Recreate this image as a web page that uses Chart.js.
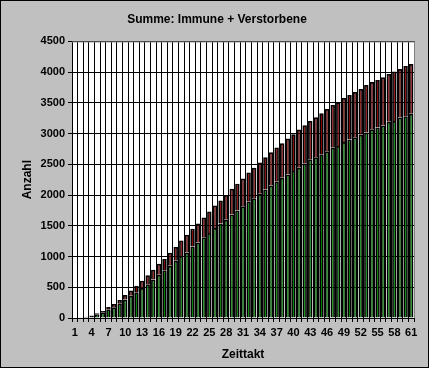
<!DOCTYPE html>
<html>
<head>
<meta charset="utf-8">
<script src="https://cdn.jsdelivr.net/npm/chart.js@4"></script>
<style>
  body { margin: 0; background: #c0c0c0; }
  #wrap { width: 429px; height: 368px; }
</style>
</head>
<body>
<div id="wrap"><canvas id="chart" width="429" height="368"></canvas></div>
<script>
// Zeittakt 1..61
let zeittakt = [];
for (let i = 1; i <= 61; i++) zeittakt.push(String(i));

// Immune (gruen)
let immune = [0, 4, 16, 32, 62, 92, 144, 175, 240, 300,
  360, 418, 490, 550, 627, 702, 770, 850, 931, 1008,
  1067, 1165, 1229, 1312, 1384, 1464, 1536, 1600, 1683, 1748,
  1817, 1890, 1950, 2022, 2092, 2157, 2217, 2282, 2336, 2391,
  2446, 2510, 2582, 2614, 2663, 2712, 2771, 2799, 2865, 2902,
  2941, 2981, 3018, 3072, 3098, 3132, 3192, 3207, 3263, 3281,
  3322];

// Verstorbene (rot)
let verstorbene = [0, 1, 4, 8, 16, 23, 36, 54, 54, 76,
  86, 105, 115, 147, 157, 180, 188, 212, 224, 252,
  289, 289, 307, 322, 348, 366, 376, 400, 419, 436,
  454, 479, 496, 506, 522, 539, 555, 561, 584, 599,
  621, 627, 621, 654, 670, 687, 693, 709, 714, 726,
  736, 745, 773, 768, 775, 785, 779, 802, 789, 820,
  812];

let yMax = 4500;
let yStep = 500;

// Hintergrund, Rahmen, Zeichenflaeche
const excelLook = {
  id: 'excelLook',
  beforeDraw(chart) {
    let ctx = chart.ctx;
    let a = chart.chartArea;
    ctx.save();
    ctx.fillStyle = '#c0c0c0';
    ctx.fillRect(0, 0, chart.width, chart.height);
    ctx.fillStyle = '#ffffff';
    ctx.fillRect(a.left, a.top, a.right - a.left, a.bottom - a.top);
    ctx.strokeStyle = '#000000';
    ctx.lineWidth = 1;
    ctx.strokeRect(0.5, 0.5, chart.width - 1, chart.height - 1);
    ctx.restore();
  },
  afterDraw(chart) {
    let ctx = chart.ctx;
    let a = chart.chartArea;
    ctx.save();
    ctx.strokeStyle = '#808080';
    ctx.lineWidth = 1;
    ctx.beginPath();
    ctx.moveTo(a.left, a.top + 0.5);
    ctx.lineTo(a.right + 0.5, a.top + 0.5);
    ctx.lineTo(a.right + 0.5, a.bottom);
    ctx.stroke();
    ctx.restore();
  }
};

let boldFont = { family: 'Liberation Sans, Arial, sans-serif', size: 11, weight: 'bold' };
let titleFont = { family: 'Liberation Sans, Arial, sans-serif', size: 12, weight: 'bold' };

new Chart(document.getElementById('chart').getContext('2d'), {
  type: 'bar',
  data: {
    labels: zeittakt,
    datasets: [{
      label: 'Immune',
      data: immune,
      backgroundColor: '#008000',
      borderColor: '#000000',
      borderWidth: 1.75,
      barPercentage: 0.8,
      categoryPercentage: 1.0
    }, {
      label: 'Verstorbene',
      data: verstorbene,
      backgroundColor: '#800000',
      borderColor: '#000000',
      borderWidth: 1.75,
      barPercentage: 0.8,
      categoryPercentage: 1.0
    }]
  },
  options: {
    responsive: false,
    animation: false,
    layout: { padding: { left: 20, right: 15, top: 0, bottom: 0 } },
    plugins: {
      legend: { display: false },
      tooltip: { enabled: false },
      title: {
        display: true,
        text: 'Summe: Immune + Verstorbene',
        color: '#000000',
        font: titleFont,
        padding: { top: 12, bottom: 15 }
      }
    },
    scales: {
      x: {
        stacked: true,
        offset: true,
        grid: { color: '#000000', offset: true, tickLength: 4 },
        border: { color: '#000000' },
        ticks: {
          autoSkip: false,
          maxRotation: 0,
          color: '#000000',
          font: boldFont,
          padding: 4,
          callback: function(value, index) {
            return index % 3 === 0 ? zeittakt[index] : '';
          }
        },
        title: {
          display: true,
          text: 'Zeittakt',
          color: '#000000',
          font: titleFont,
          padding: { top: 4, bottom: 6 }
        },
        afterFit: function(scale) { scale.height = 50; }
      },
      y: {
        stacked: true,
        min: 0,
        max: yMax,
        grid: { color: '#000000', tickLength: 4 },
        border: { color: '#000000' },
        ticks: {
          stepSize: yStep,
          color: '#000000',
          font: boldFont,
          padding: 3,
          callback: function(value) { return String(value); }
        },
        title: {
          display: true,
          text: 'Anzahl',
          color: '#000000',
          font: titleFont,
          padding: { top: 0, bottom: 0 }
        },
        afterFit: function(scale) { scale.width = 52; }
      }
    }
  },
  plugins: [excelLook]
});
</script>
</body>
</html>
